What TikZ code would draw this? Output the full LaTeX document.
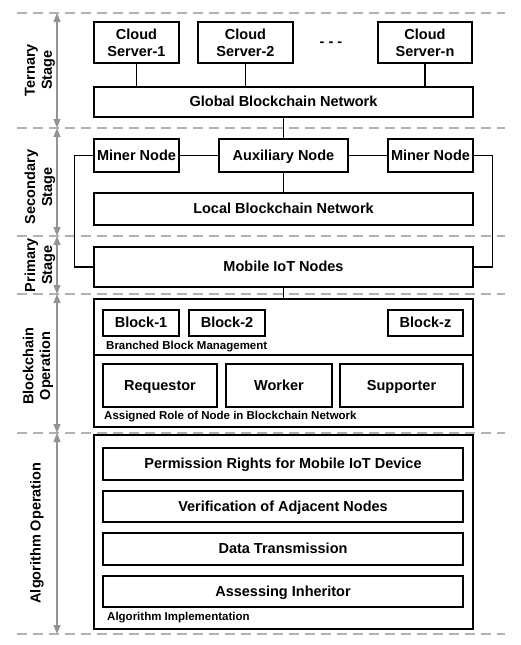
\documentclass[tikz,border=0pt]{standalone}
\usepackage{fontspec}
\setmainfont{Liberation Sans}
\usetikzlibrary{arrows.meta}

\begin{document}
\begin{tikzpicture}[x=1pt, y=-1pt,
    every node/.style={font=\fontsize{14.5}{17}\selectfont\bfseries},
    box/.style={draw, line width=1.5pt, inner sep=0pt, align=center},
    solo/.style={box, text height=10.5pt, text depth=1pt},
    tag/.style={anchor=west, inner sep=0pt, font=\fontsize{11.5}{13}\selectfont\bfseries},
    stage/.style={rotate=90, align=center, inner sep=0pt},
    link/.style={line width=1.3pt},
    sep/.style={draw=gray!60, dash pattern=on 10pt off 6pt, line width=1.3pt},
    span/.style={draw=gray!85, line width=1.2pt, {Triangle[length=9pt,width=7pt]}-{Triangle[length=9pt,width=7pt]}}]
    \useasboundingbox (0,0) rectangle (520,645);

    % --- Stage separators and spans ---
    \foreach \y in {13,128,236,294,433,634}
        \draw[sep] (17,\y) -- (505,\y);
    \foreach \a/\b in {13/128,128/236,236/294,294/433,433/634}
        \draw[span] (57,\a) -- (57,\b);
    \node[stage] (ternary) at (40,70) {Ternary\\Stage};
    \node[stage] (secondary) at (40,187) {Secondary\\Stage};
    \node[stage] (primary) at (40,265) {Primary\\Stage};
    \node[stage] (chainop) at (38,366) {Blockchain\\Operation};
    \node[stage] (algop) at (37,533) {Algorithm Operation};

    % --- Ternary Stage ---
    \node[box, minimum width=85, minimum height=41] (srv1) at (136.5,42.5) {Cloud\\Server-1};
    \node[box, minimum width=95, minimum height=41] (srv2) at (245.5,42.5) {Cloud\\Server-2};
    \node[box, minimum width=94, minimum height=41] (srvn) at (425,42.5) {Cloud\\Server-n};
    \node (dots) at (331,44) {- - -};
    \node[solo, minimum width=379, minimum height=30] (global) at (283.5,102) {Global Blockchain Network};
    \draw[link] (srv1.south) -- (srv1.south |- global.north);
    \draw[link] (srv2.south) -- (srv2.south |- global.north);
    \draw[link] (srvn.south) -- (srvn.south |- global.north);

    % --- Secondary Stage ---
    \node[solo, minimum width=85, minimum height=33] (minerL) at (136.5,155.5) {Miner Node};
    \node[solo, minimum width=129, minimum height=33] (aux) at (283.5,155.5) {Auxiliary Node};
    \node[solo, minimum width=85, minimum height=33] (minerR) at (430.5,155.5) {Miner Node};
    \node[solo, minimum width=379, minimum height=32] (local) at (283.5,209) {Local Blockchain Network};
    \draw[link] (global.south) -- (aux.north);
    \draw[link] (minerL.east) -- (aux.west);
    \draw[link] (aux.east) -- (minerR.west);
    \draw[link] (aux.south) -- (local.north);

    % --- Primary Stage ---
    \node[solo, minimum width=379, minimum height=40] (mobile) at (283.5,267) {Mobile IoT Nodes};
    \draw[link] (minerL.west) -- ++(-19,0) |- (mobile.west);
    \draw[link] (minerR.east) -- ++(19,0) |- (mobile.east);

    % --- Blockchain Operation ---
    \node[box, minimum width=379, minimum height=56] (branch) at (283.5,327) {};
    \node[box, minimum width=379, minimum height=72] (roles) at (283.5,391) {};
    \draw[link] (mobile.south) -- (branch.north);
    \node[solo, minimum width=76, minimum height=26] (blk1) at (141,323) {Block-1};
    \node[solo, minimum width=76, minimum height=26] (blk2) at (227,323) {Block-2};
    \node[solo, minimum width=75, minimum height=26] (blkz) at (425.5,323) {Block-z};
    \node[tag] (branchtag) at (106,347) {Branched Block Management};
    \node[solo, minimum width=114, minimum height=43] (req) at (160,385.5) {Requestor};
    \node[solo, minimum width=106, minimum height=43] (work) at (279,385.5) {Worker};
    \node[solo, minimum width=123, minimum height=43] (supp) at (401.5,385.5) {Supporter};
    \node[tag] (roletag) at (104,417) {Assigned Role of Node in Blockchain Network};

    % --- Algorithm Operation ---
    \node[box, minimum width=379, minimum height=194] (algo) at (283.5,532) {};
    \node[solo, minimum width=360, minimum height=32] (perm) at (283,464) {Permission Rights for Mobile IoT Device};
    \node[solo, minimum width=360, minimum height=31] (verif) at (283,506.5) {Verification of Adjacent Nodes};
    \node[solo, minimum width=360, minimum height=32] (trans) at (283,549) {Data Transmission};
    \node[solo, minimum width=360, minimum height=31] (inher) at (283,591.5) {Assessing Inheritor};
    \node[tag] (algotag) at (107,618) {Algorithm Implementation};
\end{tikzpicture}
\end{document}
